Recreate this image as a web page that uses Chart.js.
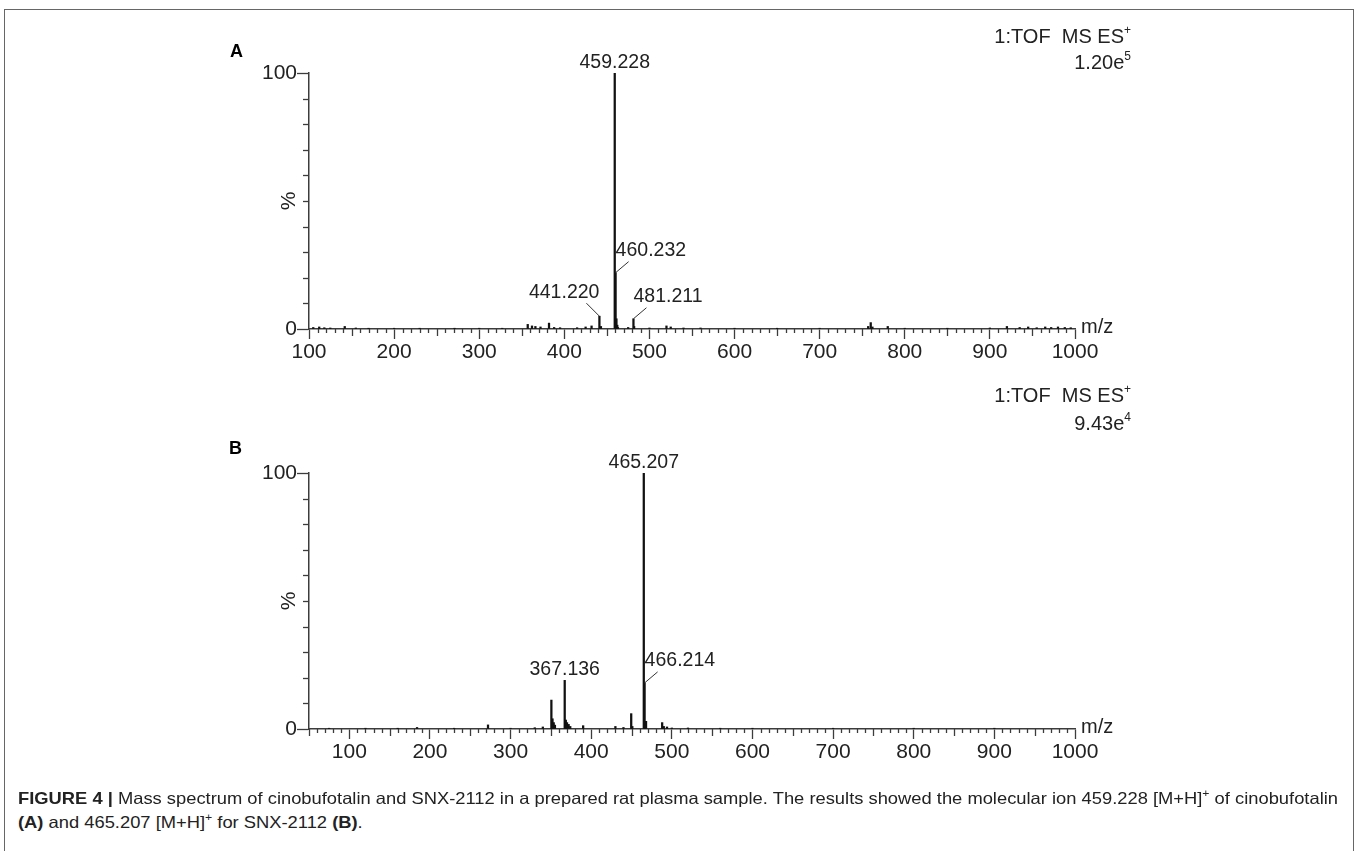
<!DOCTYPE html>
<html><head><meta charset="utf-8">
<script src="https://cdn.jsdelivr.net/npm/chart.js@4.4.1/dist/chart.umd.min.js"></script>
<style>
html,body{margin:0;padding:0;background:#fff;}
body{width:1357px;height:851px;position:relative;overflow:hidden;font-family:"Liberation Sans",Arial,sans-serif;color:#222;}
.frame{position:absolute;left:4px;top:9px;width:1350px;height:860px;border:1.5px solid #666;box-sizing:border-box;}
.box{position:absolute;left:0;width:1357px;height:400px;}
.panel{position:absolute;font-weight:bold;font-size:18px;color:#000;line-height:1;}
.info{position:absolute;font-size:20px;color:#222;line-height:1;text-align:right;white-space:nowrap;}
.info sup{font-size:12px;vertical-align:9px;line-height:0;}
.cap{position:absolute;left:18px;font-size:16.5px;color:#222;white-space:nowrap;transform-origin:0 50%;line-height:1;}
.cap sup{font-size:11px;vertical-align:7px;line-height:0;}
</style></head>
<body>
<div class="frame"></div>
<div class="box" style="top:0"><canvas id="cA" width="1357" height="400"></canvas></div>
<div class="box" style="top:400px"><canvas id="cB" width="1357" height="400"></canvas></div>

<div class="panel" style="left:230px;top:42px;">A</div>
<div class="panel" style="left:229px;top:439px;">B</div>
<div class="info" style="right:226px;top:26px;">1:TOF&nbsp;&nbsp;MS ES<sup>+</sup></div>
<div class="info" style="right:226px;top:52px;">1.20e<sup>5</sup></div>
<div class="info" style="right:226px;top:385px;">1:TOF&nbsp;&nbsp;MS ES<sup>+</sup></div>
<div class="info" style="right:226px;top:413px;">9.43e<sup>4</sup></div>

<div class="cap" id="cap1" style="top:790px;"><b>FIGURE 4 |</b> Mass spectrum of cinobufotalin and SNX-2112 in a prepared rat plasma sample. The results showed the molecular ion 459.228 [M+H]<sup>+</sup> of cinobufotalin</div>
<div class="cap" id="cap2" style="top:814px;"><b>(A)</b> and 465.207 [M+H]<sup>+</sup> for SNX-2112 <b>(B)</b>.</div>

<script>
// ---------- data ----------
// Panel A: m/z and relative intensity (%)
const mzA  = [105,112,118,125,142,155,170,200,230,271,300,327,357,362,366,372,382,388,395,415,425,432,441.220,443,459.228,460.232,461.23,462.2,463,475,481.211,482,500,520,525,540,560,600,650,700,757,760,762,780,800,850,900,920,935,945,955,965,972,980,988,995];
const intA = [0.6,0.8,0.5,0.4,1.0,0.4,0.3,0.3,0.3,0.3,0.3,0.3,1.8,1.2,1.0,0.8,2.3,0.6,0.5,0.5,0.8,1.2,5,1.0,100,22,4,1.5,0.6,0.6,4,1.0,0.4,1.2,0.8,0.4,0.4,0.3,0.3,0.3,1.0,2.5,0.8,1.0,0.3,0.3,0.4,1.0,0.6,0.8,0.5,0.8,0.6,0.8,0.6,0.5];
// Panel B
const mzB  = [75,120,160,184,230,272,300,330,340,350.6,352,353.5,355,367.136,368.5,370,372,374,390,430,440,449.6,451,465.207,466.214,468,488,490,494,500,520,560,600,700,800,900];
const intB = [0.3,0.3,0.3,0.6,0.3,1.6,0.3,0.5,0.8,11.3,4,2.5,1.5,19,3.5,2.5,1.8,1.0,1.3,1.0,0.6,6,1.0,100,18,3,2.5,1.0,0.8,0.4,0.4,0.3,0.3,0.3,0.3,0.3];

// annotated peaks
const labelMzA = [459.228, 460.232, 441.220, 481.211];
const labelTxtA = ['459.228','460.232','441.220','481.211'];
const labelMzB = [465.207, 466.214, 367.136];
const labelTxtB = ['465.207','466.214','367.136'];

// axis settings
const xRangeA = [100, 1000];
const xRangeB = [50, 1000];
const yRange = [0, 100];
const yStep = 10;
const yLabelled = [0, 100];
const xLabelStep = 100;

// ---------- styles (not data) ----------
const labelStyleA = ['top','ur','ul','ur'];
const labelStyleB = ['top','ur','top'];

const AXIS = '#3c3c3c';
const TXT = '#222';
const FONT = '"Liberation Sans", Arial, sans-serif';

const decor = {
  id: 'decor',
  afterDraw(chart, args, opts) {
    const ctx = chart.ctx;
    const xs = chart.scales.x, ys = chart.scales.y;
    const a = chart.chartArea;
    ctx.save();
    ctx.strokeStyle = AXIS;
    ctx.lineWidth = 1.3;
    // minor y ticks (every yStep)
    for (let v = yRange[0]; v <= yRange[1]; v += yStep) {
      if (yLabelled.includes(v)) continue;
      const py = Math.round(ys.getPixelForValue(v)) + 0.5;
      ctx.beginPath(); ctx.moveTo(a.left - 6, py); ctx.lineTo(a.left, py); ctx.stroke();
    }
    // minor x ticks
    xs.ticks.forEach(t => {
      const v = Math.round(t.value);
      if (v % xLabelStep === 0) return;
      const len = (v % 50 === 0) ? 7 : 4;
      const px = Math.round(xs.getPixelForValue(v)) + 0.5;
      ctx.beginPath(); ctx.moveTo(px, a.bottom); ctx.lineTo(px, a.bottom + len); ctx.stroke();
    });
    // m/z label
    ctx.fillStyle = TXT;
    ctx.font = '20px ' + FONT;
    ctx.textBaseline = 'middle';
    ctx.textAlign = 'left';
    ctx.fillText('m/z', a.right + 6, a.bottom - 2);
    // peak labels
    ctx.font = '19.5px ' + FONT;
    ctx.lineWidth = 1;
    ctx.strokeStyle = '#333';
    const mzs = opts.mz, ints = opts.int;
    opts.labels.forEach((m, i) => {
      const idx = mzs.indexOf(m);
      const px = xs.getPixelForValue(m);
      const py = ys.getPixelForValue(ints[idx]);
      const st = opts.styles[i];
      const txt = opts.texts[i];
      ctx.textBaseline = 'alphabetic';
      if (st === 'top') {
        ctx.textAlign = 'center';
        ctx.fillText(txt, px, py - 5);
      } else if (st === 'ur') {
        ctx.beginPath(); ctx.moveTo(px, py); ctx.lineTo(px + 13, py - 11); ctx.stroke();
        ctx.textAlign = 'left';
        ctx.fillText(txt, px, py - 17);
      } else if (st === 'ul') {
        ctx.beginPath(); ctx.moveTo(px, py); ctx.lineTo(px - 13, py - 13); ctx.stroke();
        ctx.textAlign = 'right';
        ctx.fillText(txt, px, py - 18);
      }
    });
    ctx.restore();
  }
};

function makeChart(id, mz, inten, xr, labels, texts, styles) {
  return new Chart(document.getElementById(id), {
    type: 'bar',
    data: {
      datasets: [{
        data: mz.map((m, i) => ({x: m, y: inten[i]})),
        backgroundColor: '#111',
        borderWidth: 0,
        barThickness: 1.6,
        grouped: false
      }]
    },
    options: {
      responsive: false,
      animation: false,
      devicePixelRatio: 1,
      layout: {padding: {left: 249, right: 282, top: 73, bottom: 31}},
      plugins: {
        legend: {display: false},
        tooltip: {enabled: false},
        decor: {mz: mz, int: inten, labels: labels, texts: texts, styles: styles}
      },
      scales: {
        x: {
          type: 'linear', min: xr[0], max: xr[1], offset: false,
          grid: {drawOnChartArea: false, drawTicks: true, offset: false, tickLength: 10,
                 tickWidth: 1.3,
                 tickColor: c => (c.tick && Math.round(c.tick.value) % xLabelStep === 0) ? AXIS : 'rgba(0,0,0,0)'},
          border: {display: true, color: AXIS, width: 1.5},
          ticks: {stepSize: 10, autoSkip: false, maxRotation: 0, padding: 1, color: TXT,
                  font: {size: 21, family: FONT},
                  callback: v => (Math.round(v) % xLabelStep === 0) ? String(Math.round(v)) : ''},
          afterFit: s => { s.height = 40; }
        },
        y: {
          type: 'linear', min: yRange[0], max: yRange[1],
          grid: {drawOnChartArea: false, drawTicks: true, tickLength: 12, tickWidth: 1.3,
                 tickColor: c => (c.tick && yLabelled.includes(c.tick.value)) ? AXIS : 'rgba(0,0,0,0)'},
          border: {display: true, color: AXIS, width: 1.5},
          ticks: {stepSize: yStep, autoSkip: false, padding: 0, color: TXT, font: {size: 21, family: FONT},
                  callback: v => yLabelled.includes(v) ? String(v) : ''},
          title: {display: true, text: '%', color: TXT, font: {size: 21, family: FONT}, padding: {top: 28, bottom: 0}},
          afterFit: s => { s.width = 60; }
        }
      }
    },
    plugins: [decor]
  });
}

makeChart('cA', mzA, intA, xRangeA, labelMzA, labelTxtA, labelStyleA);
makeChart('cB', mzB, intB, xRangeB, labelMzB, labelTxtB, labelStyleB);

// fit caption width
(function(){
  const c1 = document.getElementById('cap1'), c2 = document.getElementById('cap2');
  const w = c1.getBoundingClientRect().width;
  const s = 1320 / w;
  c1.style.transform = 'scaleX(' + s + ')';
  c2.style.transform = 'scaleX(' + s + ')';
})();
</script>
</body></html>
